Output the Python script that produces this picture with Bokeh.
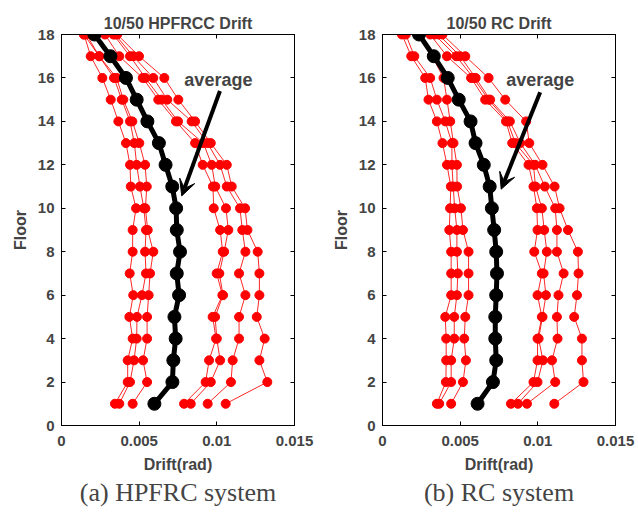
from bokeh.plotting import figure
from bokeh.layouts import row
from bokeh.models import LinearAxis, FixedTicker, Range1d, Arrow, VeeHead, Label, Title
from bokeh.embed import file_html
from bokeh.resources import INLINE

floors = list(range(1, 19))
x_ticks = [0, 0.005, 0.01, 0.015]
x_tick_labels = ["0", "0.005", "0.01", "0.015"]
y_ticks = [0, 2, 4, 6, 8, 10, 12, 14, 16, 18]

# (a) HPFRCC, 10/50 drift per ground motion (rad), floors 1..18
hp_gm1 = [0.00344, 0.00426, 0.00426, 0.00458, 0.00437, 0.00462, 0.00439, 0.00458, 0.00458, 0.00480, 0.00446, 0.00441, 0.00415, 0.00366, 0.00317, 0.00263, 0.00188, 0.00145]
hp_gm2 = [0.00372, 0.00441, 0.00467, 0.00484, 0.00486, 0.00518, 0.00544, 0.00538, 0.00544, 0.00530, 0.00505, 0.00484, 0.00469, 0.00441, 0.00388, 0.00338, 0.00243, 0.00145]
hp_gm3 = [0.00458, 0.00551, 0.00525, 0.00551, 0.00551, 0.00561, 0.00570, 0.00591, 0.00555, 0.00540, 0.00549, 0.00538, 0.00501, 0.00456, 0.00398, 0.00355, 0.00243, 0.00160]
hp_gm4 = [0.00789, 0.00928, 0.00950, 0.00995, 0.00973, 0.01036, 0.00999, 0.01038, 0.01021, 0.00980, 0.00975, 0.00909, 0.00860, 0.00737, 0.00623, 0.00523, 0.00372, 0.00280]
hp_gm5 = [0.00832, 0.00961, 0.01021, 0.01000, 0.00989, 0.01040, 0.01016, 0.01047, 0.01074, 0.01059, 0.00990, 0.00967, 0.00913, 0.00750, 0.00645, 0.00540, 0.00441, 0.00334]
hp_gm6 = [0.00941, 0.01091, 0.01102, 0.01143, 0.01143, 0.01184, 0.01143, 0.01184, 0.01164, 0.01149, 0.01064, 0.01021, 0.00940, 0.00838, 0.00681, 0.00591, 0.00462, 0.00345]
hp_gm7 = [0.01057, 0.01325, 0.01274, 0.01308, 0.01257, 0.01274, 0.01274, 0.01263, 0.01197, 0.01182, 0.01096, 0.01064, 0.00961, 0.00860, 0.00752, 0.00662, 0.00499, 0.00359]
hp_avg = [0.00598, 0.00714, 0.00720, 0.00735, 0.00727, 0.00757, 0.00742, 0.00763, 0.00742, 0.00738, 0.00713, 0.00670, 0.00627, 0.00553, 0.00484, 0.00415, 0.00315, 0.00212]

# (b) RC
rc_gm1 = [0.00350, 0.00408, 0.00410, 0.00410, 0.00404, 0.00442, 0.00442, 0.00442, 0.00430, 0.00435, 0.00440, 0.00415, 0.00386, 0.00350, 0.00296, 0.00275, 0.00185, 0.00125]
rc_gm2 = [0.00365, 0.00442, 0.00442, 0.00462, 0.00462, 0.00479, 0.00485, 0.00479, 0.00479, 0.00465, 0.00455, 0.00447, 0.00447, 0.00404, 0.00350, 0.00307, 0.00205, 0.00150]
rc_gm3 = [0.00442, 0.00518, 0.00537, 0.00526, 0.00533, 0.00554, 0.00554, 0.00554, 0.00518, 0.00505, 0.00480, 0.00479, 0.00457, 0.00436, 0.00415, 0.00393, 0.00320, 0.00230]
rc_gm4 = [0.00827, 0.00972, 0.00998, 0.00998, 0.01026, 0.00998, 0.01026, 0.00977, 0.00998, 0.00994, 0.00972, 0.00940, 0.00835, 0.00795, 0.00661, 0.00570, 0.00415, 0.00307]
rc_gm5 = [0.00872, 0.00998, 0.01033, 0.01005, 0.01030, 0.01052, 0.01037, 0.01058, 0.01041, 0.01026, 0.00985, 0.00972, 0.00855, 0.00805, 0.00683, 0.00585, 0.00475, 0.00335]
rc_gm6 = [0.00930, 0.01112, 0.01091, 0.01127, 0.01123, 0.01133, 0.01166, 0.01123, 0.01123, 0.01112, 0.01045, 0.00983, 0.00887, 0.00820, 0.00693, 0.00600, 0.00500, 0.00361]
rc_gm7 = [0.01106, 0.01294, 0.01284, 0.01284, 0.01234, 0.01252, 0.01262, 0.01258, 0.01194, 0.01140, 0.01108, 0.01030, 0.00945, 0.00925, 0.00790, 0.00683, 0.00533, 0.00386]
rc_avg = [0.00612, 0.00711, 0.00732, 0.00726, 0.00726, 0.00732, 0.00737, 0.00732, 0.00719, 0.00704, 0.00690, 0.00652, 0.00599, 0.00567, 0.00491, 0.00420, 0.00330, 0.00235]

SANS = "Liberation Sans"
SERIF = "Liberation Serif"


def make_panel(title, caption, gms, avg, arrow_xy, label_xy, width, b_left, b_right):
    p = figure(width=width, height=508, x_range=Range1d(0, 0.015), y_range=Range1d(0, 18),
               output_backend="svg", toolbar_location=None,
               min_border_left=b_left, min_border_right=b_right,
               min_border_top=34, min_border_bottom=83)
    p.title.text = title
    p.title.align = "center"
    p.title.text_font = SANS
    p.title.text_font_size = "16px"
    p.title.text_font_style = "bold"
    p.title.standoff = 5
    p.grid.visible = False
    p.outline_line_color = "black"
    p.outline_line_width = 1
    p.background_fill_color = "white"
    p.border_fill_color = "white"

    xa = p.xaxis[0]
    ya = p.yaxis[0]
    xa.ticker = FixedTicker(ticks=x_ticks)
    xa.major_label_overrides = dict(zip(x_ticks, x_tick_labels))
    ya.ticker = FixedTicker(ticks=y_ticks)
    xa.axis_label = "Drift(rad)"
    ya.axis_label = "Floor"
    for ax in (xa, ya):
        ax.axis_label_text_font = SANS
        ax.axis_label_text_font_size = "16px"
        ax.axis_label_text_font_style = "bold"
        ax.major_label_text_font = SANS
        ax.major_label_text_font_size = "15px"
        ax.major_label_text_font_style = "bold"
        ax.major_tick_in = 4
        ax.major_tick_out = 0
        ax.minor_tick_line_color = None
        ax.axis_line_color = "black"
    xa.major_label_standoff = 10
    ya.major_label_standoff = 7
    xa.axis_label_standoff = 7
    ya.axis_label_standoff = 6

    top = LinearAxis(ticker=FixedTicker(ticks=x_ticks), major_label_overrides={t: "" for t in x_ticks},
                     major_tick_in=4, major_tick_out=0, minor_tick_line_color=None)
    right = LinearAxis(ticker=FixedTicker(ticks=y_ticks), major_label_overrides={t: "" for t in y_ticks},
                       major_tick_in=4, major_tick_out=0, minor_tick_line_color=None)
    p.add_layout(top, "above")
    p.add_layout(right, "right")

    for gm in gms:
        p.line(gm, floors, line_color="#ff0000", line_width=1, line_alpha=0.85)
        p.scatter(gm, floors, marker="circle", size=9, fill_color="#ff0000", line_color="#ff0000")
    p.line(avg, floors, line_color="black", line_width=5)
    p.scatter(avg, floors, marker="circle", size=13, fill_color="black", line_color="black")

    (x0, y0, x1, y1) = arrow_xy
    p.add_layout(Arrow(x_start=x0, y_start=y0, x_end=x1, y_end=y1, line_width=4, line_color="black",
                       end=VeeHead(size=16, fill_color="black", line_color="black")))
    p.add_layout(Label(x=label_xy[0], y=label_xy[1], text="average", text_align="center",
                       text_baseline="middle", text_font=SANS, text_font_size="18px",
                       text_font_style="bold"))

    p.add_layout(Title(text=caption, align="center", text_font=SERIF, text_font_size="26px",
                       text_font_style="normal", standoff=0), "below")
    return p


p1 = make_panel("10/50 HPFRCC Drift", "(a) HPFRC system",
                [hp_gm1, hp_gm2, hp_gm3, hp_gm4, hp_gm5, hp_gm6, hp_gm7], hp_avg,
                (0.0102, 15.4, 0.00774, 10.57), (0.0101, 15.9), 318, 61, 24)
p2 = make_panel("10/50 RC Drift", "(b) RC system",
                [rc_gm1, rc_gm2, rc_gm3, rc_gm4, rc_gm5, rc_gm6, rc_gm7], rc_avg,
                (0.01015, 15.34, 0.00764, 10.88), (0.01015, 15.9), 320, 64, 23)

layout = row(p1, p2)
open("out.html", "w").write(file_html(layout, INLINE))
